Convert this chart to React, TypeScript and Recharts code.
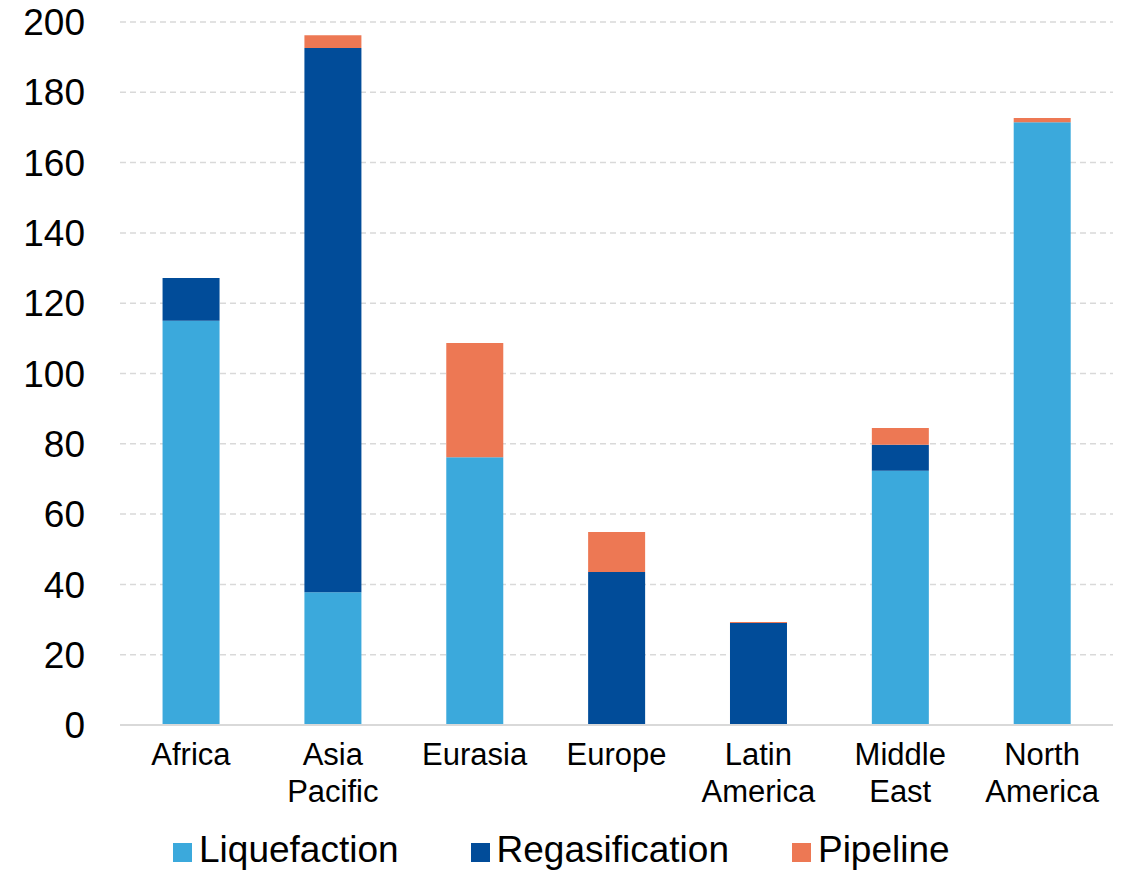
import React from 'react';
import { BarChart, Bar, XAxis, YAxis, CartesianGrid, Legend } from 'recharts';

const regions = ['Africa', 'Asia Pacific', 'Eurasia', 'Europe', 'Latin America', 'Middle East', 'North America'];
const liquefaction = [115, 37.8, 76.2, 0, 0, 72.3, 171.5];
const regasification = [12.2, 154.8, 0, 43.5, 29, 7.4, 0];
const pipeline = [0, 3.6, 32.5, 11.4, 0.3, 4.8, 1.2];
const yTicks = [0, 20, 40, 60, 80, 100, 120, 140, 160, 180, 200];

const seriesInfo = [
  { key: 'Liquefaction', color: '#3BA9DC' },
  { key: 'Regasification', color: '#014C99' },
  { key: 'Pipeline', color: '#ED7854' },
];
const legendGaps = [72, 63, 0];

const data = regions.map((r, i) => ({
  name: r,
  Liquefaction: liquefaction[i],
  Regasification: regasification[i],
  Pipeline: pipeline[i],
}));

const FONT = 'Liberation Sans, Arial, sans-serif';

const XTick = (props: any) => {
  const { x, y, payload } = props;
  const words = String(payload.value).split(' ');
  return (
    <g transform={`translate(${x},${y})`}>
      {words.map((w: string, i: number) => (
        <text key={i} x={0} y={0} dy={32 + i * 37} textAnchor="middle" fill="#000" fontSize={31} fontFamily={FONT}>
          {w}
        </text>
      ))}
    </g>
  );
};

const LegendContent = () => (
  <div style={{ display: 'flex', justifyContent: 'flex-start', alignItems: 'center', fontFamily: FONT, fontSize: 37, color: '#000', paddingLeft: 173, paddingTop: 8, height: 50, boxSizing: 'border-box' }}>
    {seriesInfo.map((s, i) => (
      <div key={s.key} style={{ display: 'flex', alignItems: 'center', marginRight: legendGaps[i] }}>
        <div style={{ width: 19, height: 19, background: s.color, marginRight: 7, marginTop: 4 }} />
        <span>{s.key}</span>
      </div>
    ))}
  </div>
);

export default function App() {
  return (
    <div style={{ position: 'absolute', left: 0, top: 0, background: '#fff' }}>
      <BarChart width={1122} height={871} data={data} margin={{ top: 22, right: 9, bottom: 0, left: 0 }} barCategoryGap="30%">
        <CartesianGrid vertical={false} stroke="#D9D9D9" strokeDasharray="6 4" strokeWidth={1.5} />
        <XAxis dataKey="name" tick={<XTick />} tickLine={false} axisLine={{ stroke: '#D9D9D9', strokeWidth: 2 }} height={96} interval={0} />
        <YAxis domain={[0, 200]} ticks={yTicks} width={120} tickLine={false} axisLine={false} tickMargin={29}
          tick={{ fill: '#000', fontSize: 37, fontFamily: FONT }} />
        <Legend verticalAlign="bottom" content={<LegendContent />} wrapperStyle={{ height: 50 }} />
        {seriesInfo.map((s) => (
          <Bar key={s.key} dataKey={s.key} stackId="a" fill={s.color} isAnimationActive={false} />
        ))}
      </BarChart>
    </div>
  );
}
